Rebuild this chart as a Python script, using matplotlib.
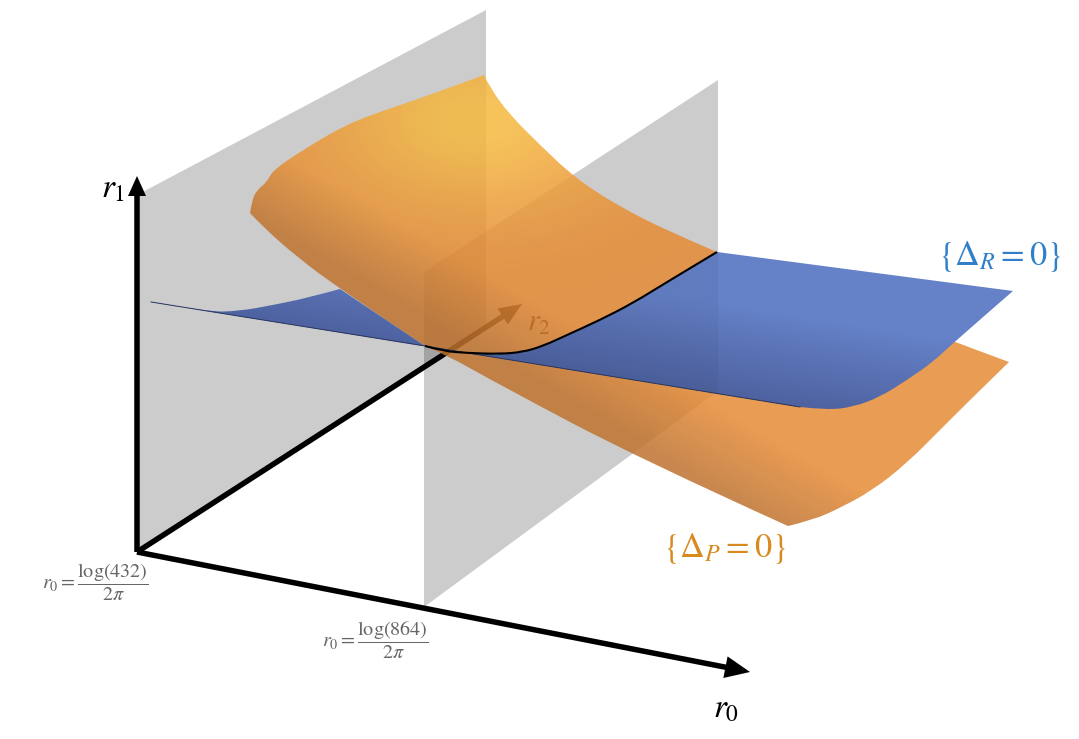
import numpy as np
import matplotlib
matplotlib.use("Agg")
import matplotlib.pyplot as plt
from matplotlib.path import Path
from matplotlib.patches import PathPatch, Polygon

plt.rcParams['mathtext.fontset'] = 'stix'
plt.rcParams['font.family'] = ['STIXGeneral', 'DejaVu Serif']

# outlines, in image pixels
back_plane = [(137, 552), (137, 195), (486, 10), (486, 327)]
front_plane = [(424, 607), (424, 272), (718, 80), (718, 391)]

orange_left = [(425, 346), (340, 289), (297, 257), (263, 227), (250, 213)]
orange_crest = [(250, 213), (252, 200), (257, 190), (267, 182), (273, 170), (303, 150), (345, 125),
                (385, 110), (430, 95), (484, 75)]
orange_top = [(484, 75), (490, 88), (510, 115), (540, 145), (575, 178), (620, 207), (670, 232),
              (717, 252)]
orange_far = [(717, 252), (957, 343), (1009, 362)]
orange_right = [(1009, 362), (973, 397), (940, 430), (907, 463), (873, 490), (840, 508), (813, 520),
                (788, 526)]
orange_bottom = [(788, 526), (640, 459), (500, 385), (443, 353), (425, 346)]

blue_tail = [(151, 302), (208, 312), (240, 311), (273, 305), (307, 298), (340, 289)]
blue_hidden = [(340, 289), (425, 346)]
intersection = [(425, 346), (443, 351), (467, 353), (500, 354), (523, 352), (543, 346), (567, 335),
                (600, 320), (633, 303), (667, 282), (717, 252)]
blue_far = [(717, 252), (1013, 291)]
blue_right = [(1013, 291), (953, 343), (933, 362), (907, 380), (880, 397), (853, 407), (827, 410),
              (800, 407)]
blue_edge = [(800, 407), (425, 346), (151, 302)]

axis_origin = (137, 552)
r0_tip = (750, 672)
r1_tip = (137, 176)
r2_tip = (522, 304)

label_432 = r'$r_0=\dfrac{\log(432)}{2\pi}$'
label_864 = r'$r_0=\dfrac{\log(864)}{2\pi}$'

W, H = 1079, 739


def curve_path(sections, closed=True):
    # each section is smoothed with quadratic pieces, its two ends stay sharp corners
    verts = [sections[0][0]]
    codes = [Path.MOVETO]
    for sec in sections:
        pts = np.array(sec, dtype=float)
        for i in range(1, len(pts) - 1):
            end = pts[i + 1] if i == len(pts) - 2 else (pts[i] + pts[i + 1]) / 2
            verts += [tuple(pts[i]), tuple(end)]
            codes += [Path.CURVE3, Path.CURVE3]
        if len(pts) == 2:
            verts.append(tuple(pts[1]))
            codes.append(Path.LINETO)
    if closed:
        verts.append(sections[0][0])
        codes.append(Path.CLOSEPOLY)
    return Path(verts, codes)


def shaded(ax, path, rgba, z):
    im = ax.imshow(rgba, extent=(0, W, H, 0), zorder=z, interpolation='nearest')
    patch = PathPatch(path, transform=ax.transData, fc='none', ec='none')
    ax.add_patch(patch)
    im.set_clip_path(patch)
    return im


def arrow(tip, width, head_w, head_l, color='black', z=3):
    ax.arrow(axis_origin[0], axis_origin[1], tip[0] - axis_origin[0], tip[1] - axis_origin[1],
             width=width, head_width=head_w, head_length=head_l, length_includes_head=True,
             lw=0, color=color, zorder=z)


fig = plt.figure(figsize=(W / 100, H / 100), dpi=100)
ax = fig.add_axes([0, 0, 1, 1])

ax.add_patch(Polygon(back_plane, fc='black', alpha=0.2, lw=0, zorder=1))
ax.add_patch(Polygon(front_plane, fc='black', alpha=0.2, lw=0, zorder=2))

arrow(r0_tip, 5.5, 22, 25)
arrow(r1_tip, 5.5, 18, 20)
arrow(r2_tip, 5.5, 19, 23)
ax.text(527, 331, r'$r_2$', fontsize=22, color='black', zorder=3)

# shading of the two surfaces
xx, yy = np.meshgrid(np.arange(W) + 0.5, np.arange(H) + 0.5)

d_orange = (xx - 250) * 0.5 - (yy - 213) * 0.86 + 5
dark = np.clip(1 - d_orange / 72, 0, 1)[..., None]
glow = np.exp(-(((xx - 475) / 145) ** 2 + ((yy - 120) / 90) ** 2))[..., None]
base = np.array([230, 138, 52]) / 255
shadow = np.array([190, 114, 46]) / 255
yellow = np.array([246, 186, 62]) / 255
col = base + dark * (shadow - base) + glow * (yellow - base)
orange_rgba = np.dstack([np.clip(col, 0, 1), np.full((H, W), 0.85)])

d_blue = (346 + (xx - 425) * 0.1622) - yy
fade = np.clip(1 - d_blue / 90, 0, 1)[..., None]
top_blue = np.array([101, 129, 199]) / 255
low_blue = np.array([78, 98, 160]) / 255
blue_col = top_blue + fade * (low_blue - top_blue)
blue_rgba = np.dstack([blue_col, np.ones((H, W))])

orange_path = curve_path([orange_left, orange_crest, orange_top, orange_far, orange_right, orange_bottom])
blue_path = curve_path([blue_tail, blue_hidden, intersection, blue_far, blue_right, blue_edge])

shaded(ax, orange_path, orange_rgba, 4)
shaded(ax, blue_path, blue_rgba, 5)

# front plane showing faintly on the blue
veil = Polygon(front_plane, fc='black', alpha=0.04, lw=0, zorder=6)
ax.add_patch(veil)
clip = PathPatch(blue_path, transform=ax.transData, fc='none', ec='none')
ax.add_patch(clip)
veil.set_clip_path(clip)

ax.plot(*zip(*blue_edge), color='#26345f', lw=0.7, zorder=7)
ax.add_patch(PathPatch(curve_path([intersection], closed=False), fc='none', ec='black', lw=1.5, zorder=8))

ax.text(101, 197, r'$r_1$', fontsize=24, color='black')
ax.text(713, 717, r'$r_0$', fontsize=24, color='black')
ax.text(95, 582, label_432, fontsize=14.5, color='#666666', ha='center', va='center')
ax.text(375, 640, label_864, fontsize=14.5, color='#666666', ha='center', va='center')
ax.text(1000, 257, r'$\{\Delta_R=0\}$', fontsize=24.7, color='#2f7fc9', ha='center', va='center')
ax.text(725, 549, r'$\{\Delta_P=0\}$', fontsize=24.7, color='#d98a1e', ha='center', va='center')

ax.set_xlim(0, W)
ax.set_ylim(H, 0)
ax.set_aspect('auto')
ax.axis('off')

fig.savefig('out.png', dpi=100)
